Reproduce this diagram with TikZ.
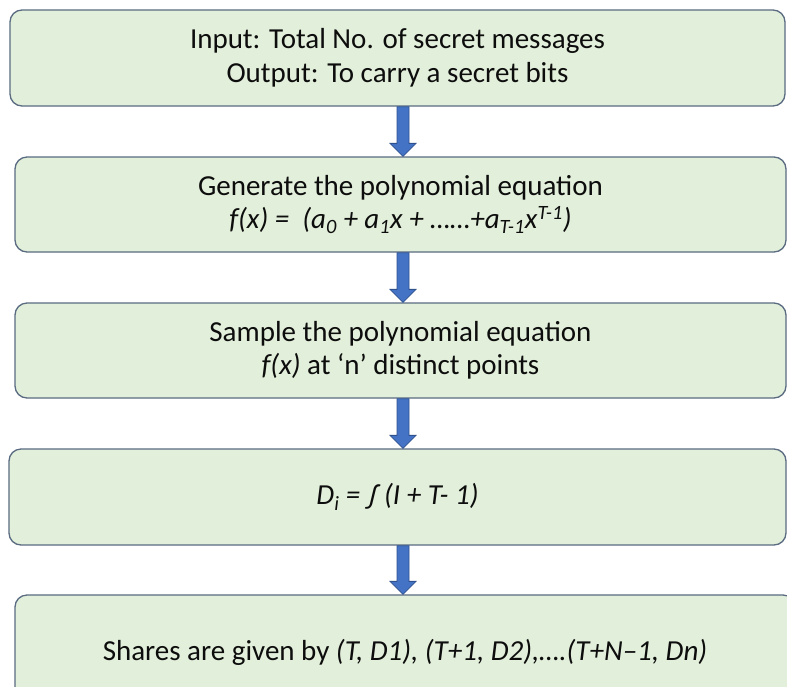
\documentclass[tikz,border=0pt]{standalone}
\usepackage{fontspec}
\setmainfont{Carlito}
\usetikzlibrary{calc}
\definecolor{boxfill}{HTML}{E2EFDA}
\definecolor{boxline}{HTML}{5A6B82}
\definecolor{arrfill}{HTML}{4472C4}
\definecolor{arrline}{HTML}{2F528F}
\newcommand\flowarrow[2]{%
  \draw[flow] ($(#1.south -| ax)+(-6,0)$) -- ($(#2.north -| ax)+(-6,-13)$)
    -- ($(#2.north -| ax)+(-13,-13)$) -- (#2.north -| ax)
    -- ($(#2.north -| ax)+(13,-13)$) -- ($(#2.north -| ax)+(6,-13)$)
    -- ($(#1.south -| ax)+(6,0)$) -- cycle;}
\begin{document}
\begin{tikzpicture}[x=1pt,y=-1pt,
  stepbox/.style={draw=boxline, line width=1.3pt, fill=boxfill, rounded corners=12pt,
    align=center, font=\fontsize{29}{33.5}\selectfont, inner sep=0pt, text=black!95},
  flow/.style={fill=arrfill, draw=arrline, line width=0.8pt, line join=miter}]
\useasboundingbox (0,0) rectangle (787,686);
\clip (0,0) rectangle (787,686);
\fill[white] (0,0) rectangle (787,686);
\coordinate (ax) at (403,0);
\node[stepbox, minimum width=775pt, minimum height=96pt] (b1) at (397.5,58)
  {Input: Total No. of secret messages\\Output: To carry a secret bits};
\node[stepbox, minimum width=771pt, minimum height=95pt] (b2) at (400.5,204.5)
  {Generate the polynomial equation\\\textit{f(x) =\ \ (a\textsubscript{0} + a\textsubscript{1}x + ……+a\textsubscript{T-1}x\textsuperscript{T-1})}};
\node[stepbox, minimum width=771pt, minimum height=95pt] (b3) at (400.5,350.5)
  {Sample the polynomial equation\\\textit{f(x)} at ‘n’ distinct points};
\node[stepbox, minimum width=777pt, minimum height=96pt] (b4) at (397.5,497)
  {\textit{D\textsubscript{i} = ∫ (I + T- 1)}};
\node[stepbox, minimum width=780pt, minimum height=114pt] (b5) at (405,652)
  {Shares are given by \textit{(T, D1), (T+1, D2),….(T+N–1, Dn)}};
\flowarrow{b1}{b2}
\flowarrow{b2}{b3}
\flowarrow{b3}{b4}
\flowarrow{b4}{b5}
\end{tikzpicture}
\end{document}
